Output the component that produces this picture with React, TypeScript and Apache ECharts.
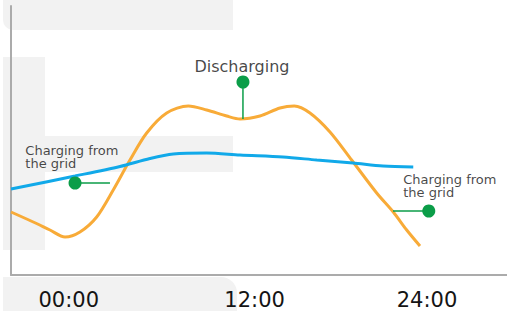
import React, { useEffect, useRef } from "react";
import * as echarts from "echarts";

// Hours of day (x) and relative power level (y)
const orangeHours = [-3.87, -2.38, -1.26, -0.25, 0.75, 1.87, 2.98, 4.1, 5.22, 6.56, 8.01, 9.24, 10.58, 11.47, 12.81, 14.15, 15.11, 16.16, 17.5, 18.95, 20.63, 21.74, 22.64, 23.53];
const orangeValues = [63, 53, 45, 38, 43, 58, 85, 115, 142, 162, 169, 165, 159, 156, 159, 167, 169, 162, 143, 115, 82, 63, 45, 29];

const blueHours = [-3.87, 0.42, 3.43, 5.44, 7.0, 9.24, 11.47, 14.35, 16.61, 19.04, 21.05, 23.08];
const blueValues = [86, 99, 108.5, 116.5, 121, 122, 120, 118, 115, 112, 109, 108];

const tickValues = [0, 12.45, 24];
const tickLabels = ["00:00", "12:00", "24:00"];

// annotations: [hour, value]
const dischargeDot = [11.67, 193];
const dischargeLineEnd = [11.67, 156];
const dischargeText = [11.6, 209];
const leftDot = [0.42, 92];
const leftLineEnd = [2.76, 92];
const leftText = [-2.91, 118];
const rightDot = [24.12, 64];
const rightLineEnd = [21.72, 64];
const rightText = [22.41, 89];

const labelDischarging = "Discharging";
const labelCharging = "Charging from\nthe grid";

const GREEN = "#0b9d48";
const FONT = "DejaVu Sans";

export default function App() {
  const ref = useRef<HTMLDivElement>(null);
  useEffect(() => {
    if (!ref.current) return;
    const chart = echarts.init(ref.current, null, { renderer: "svg" });
    const grey = "#f2f2f2";
    const textSeries = (pos: number[], text: string, size: number, pos2: any, lh: number) => ({
      type: "scatter",
      data: [pos],
      symbolSize: 0,
      z: 5,
      label: {
        show: true,
        position: pos2,
        distance: 0,
        formatter: text,
        fontFamily: FONT,
        fontSize: size,
        lineHeight: lh,
        color: "#161616",
      },
      silent: true,
    });
    const connector = (a: number[], b: number[]) => ({
      type: "line",
      data: [a, b],
      symbol: "none",
      lineStyle: { color: GREEN, width: 1.5 },
      z: 3,
      silent: true,
    });
    chart.setOption({
      animation: false,
      graphic: [
        { type: "rect", z: -10, shape: { x: 3, y: 0, width: 230, height: 30, r: [0, 0, 0, 10] }, style: { fill: grey } },
        { type: "rect", z: -10, shape: { x: 3, y: 57, width: 42, height: 193 }, style: { fill: grey } },
        { type: "rect", z: -10, shape: { x: 3, y: 136, width: 230, height: 36 }, style: { fill: grey } },
        { type: "rect", z: -10, shape: { x: 3, y: 277, width: 234, height: 34, r: [0, 16, 0, 0] }, style: { fill: grey } },
      ],
      grid: { left: 11, right: 0, top: 6, bottom: 36 },
      xAxis: {
        type: "value",
        min: -3.87,
        max: 29.36,
        splitLine: { show: false },
        axisTick: { show: false },
        axisLine: { show: true, onZero: false, lineStyle: { color: "#ababab", width: 2 } },
        axisLabel: {
          customValues: tickValues,
          formatter: (v: number) => {
            const i = tickValues.findIndex((t) => Math.abs(t - v) < 1e-6);
            return i >= 0 ? tickLabels[i] : "";
          },
          fontFamily: FONT,
          fontSize: 21,
          color: "#141414",
          margin: 14,
        },
      },
      yAxis: {
        type: "value",
        min: 0,
        max: 269,
        splitLine: { show: false },
        axisTick: { show: false },
        axisLabel: { show: false },
        axisLine: { show: true, onZero: false, lineStyle: { color: "#ababab", width: 2 } },
      },
      series: [
        {
          type: "line",
          data: orangeHours.map((h, i) => [h, orangeValues[i]]),
          smooth: 0.3,
          symbol: "none",
          lineStyle: { color: "#f8ab38", width: 3 },
          z: 2,
        },
        {
          type: "line",
          data: blueHours.map((h, i) => [h, blueValues[i]]),
          smooth: 0.3,
          symbol: "none",
          lineStyle: { color: "#11a9e9", width: 3 },
          z: 2,
        },
        connector(dischargeDot, dischargeLineEnd),
        connector(leftDot, leftLineEnd),
        connector(rightDot, rightLineEnd),
        {
          type: "scatter",
          data: [dischargeDot, leftDot, rightDot],
          symbolSize: 13,
          itemStyle: { color: GREEN, opacity: 1 },
          z: 4,
        },
        textSeries(dischargeText, labelDischarging, 16, "inside", 18),
        textSeries(leftText, labelCharging, 13, "right", 13.5),
        textSeries(rightText, labelCharging, 13, "right", 13.5),
      ],
    });
    return () => chart.dispose();
  }, []);
  return (
    <div
      ref={ref}
      style={{ position: "fixed", left: 0, top: 0, width: 507, height: 311, background: "#fff" }}
    />
  );
}
